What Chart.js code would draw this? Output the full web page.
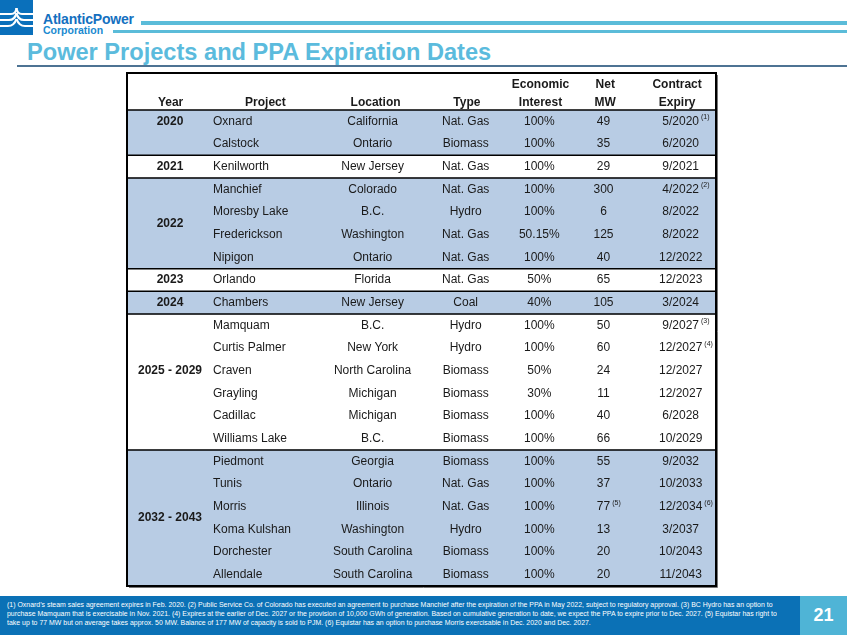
<!DOCTYPE html>
<html>
<head>
<meta charset="utf-8">
<title>Power Projects and PPA Expiration Dates</title>
<script src="https://cdn.jsdelivr.net/npm/chart.js@4.4.1/dist/chart.umd.min.js"></script>
<style>
  body { margin: 0; width: 847px; height: 635px; position: relative; overflow: hidden; background: #fff;
         font-family: "Liberation Sans", Arial, sans-serif; }
  .abs { position: absolute; }
  #brand1 { left: 43px; top: 12px; font-size: 14px; line-height: 14px; font-weight: bold; color: #1470c0; letter-spacing: -0.2px; }
  #brand2 { left: 43px; top: 25px; font-size: 10.5px; line-height: 11px; font-weight: bold; color: #1a8ad0; }
  #bar1 { left: 141px; top: 21px; width: 706px; height: 4px; background: #5bbcd9; }
  #bar2 { left: 113px; top: 30px; width: 734px; height: 3px; background: #5bbcd9; }
  #title { left: 27px; top: 40px; font-size: 23.6px; line-height: 24px; font-weight: bold; color: #5bbbdd; white-space: nowrap; }
  #rule { left: 17px; top: 65px; width: 830px; height: 2px; background: #4d7393; }
  #wrap { left: 126px; top: 72px; }
  #footer { left: 0; top: 596px; width: 800px; height: 39px; background: #0b71b6; }
  #notes { left: 7px; top: 4px; color: #fff; font-size: 7px; line-height: 9px; white-space: nowrap; transform-origin: 0 0; }
  #page { left: 800px; top: 596px; width: 47px; height: 39px; background: #4fb4d6; color: #fff;
          font-weight: bold; font-size: 18px; line-height: 39px; text-align: center; }
</style>
</head>
<body>
<svg class="abs" style="left:0;top:0" width="34" height="36" viewBox="0 0 34 36">
  <rect x="0" y="0" width="33" height="35" fill="#0a70bb"/>
  <g fill="none" stroke="#fff" stroke-width="2.2">
    <path d="M0 14 H11 Q16 14 16.5 8"/>
    <path d="M33 14 H22 Q17 14 16.5 8"/>
    <path d="M0 20 H9 Q15 20 16.5 13"/>
    <path d="M33 20 H24 Q18 20 16.5 13"/>
    <path d="M0 26 H8 Q14 26 16.5 19"/>
    <path d="M33 26 H25 Q19 26 16.5 19"/>
  </g>
</svg>
<div id="brand1" class="abs">AtlanticPower</div>
<div id="brand2" class="abs">Corporation</div>
<div id="bar1" class="abs"></div>
<div id="bar2" class="abs"></div>
<div id="title" class="abs">Power Projects and PPA Expiration Dates</div>
<div id="rule" class="abs"></div>

<div id="wrap" class="abs"><canvas id="ppaTable" width="592" height="516"></canvas></div>

<div id="footer" class="abs">
  <div id="notes" class="abs">
    <div class="nl">(1) Oxnard’s steam sales agreement expires in Feb. 2020. (2) Public Service Co. of Colorado has executed an agreement to purchase Manchief after the expiration of the PPA in May 2022, subject to regulatory approval. (3) BC Hydro has an option to</div>
    <div class="nl">purchase Mamquam that is exercisable in Nov. 2021. (4) Expires at the earlier of Dec. 2027 or the provision of 10,000 GWh of generation. Based on cumulative generation to date, we expect the PPA to expire prior to Dec. 2027. (5) Equistar has right to</div>
    <div class="nl">take up to 77 MW but on average takes approx. 50 MW. Balance of 177 MW of capacity is sold to PJM. (6) Equistar has an option to purchase Morris exercisable in Dec. 2020 and Dec. 2027.</div>
  </div>
</div>
<div id="page" class="abs">21</div>

<script>
// table data, one entry per project row
const yearGroups = ['2020', '2021', '2022', '2023', '2024', '2025 - 2029', '2032 - 2043'];
const groupSizes = [2, 1, 4, 1, 1, 6, 6];

const projects = ['Oxnard', 'Calstock', 'Kenilworth', 'Manchief', 'Moresby Lake', 'Frederickson', 'Nipigon',
    'Orlando', 'Chambers', 'Mamquam', 'Curtis Palmer', 'Craven', 'Grayling', 'Cadillac', 'Williams Lake',
    'Piedmont', 'Tunis', 'Morris', 'Koma Kulshan', 'Dorchester', 'Allendale'];
const locations = ['California', 'Ontario', 'New Jersey', 'Colorado', 'B.C.', 'Washington', 'Ontario',
    'Florida', 'New Jersey', 'B.C.', 'New York', 'North Carolina', 'Michigan', 'Michigan', 'B.C.',
    'Georgia', 'Ontario', 'Illinois', 'Washington', 'South Carolina', 'South Carolina'];
const types = ['Nat. Gas', 'Biomass', 'Nat. Gas', 'Nat. Gas', 'Hydro', 'Nat. Gas', 'Nat. Gas',
    'Nat. Gas', 'Coal', 'Hydro', 'Hydro', 'Biomass', 'Biomass', 'Biomass', 'Biomass',
    'Biomass', 'Nat. Gas', 'Nat. Gas', 'Hydro', 'Biomass', 'Biomass'];
const interests = [100, 100, 100, 100, 100, 50.15, 100, 50, 40, 100, 100, 50, 30, 100, 100,
    100, 100, 100, 100, 100, 100];
const netMW = [49, 35, 29, 300, 6, 125, 40, 65, 105, 50, 60, 24, 11, 40, 66, 55, 37, 77, 13, 20, 20];
const mwNotes = ['', '', '', '', '', '', '', '', '', '', '', '', '', '', '', '', '', '(5)', '', '', ''];
const expiry = ['5/2020', '6/2020', '9/2021', '4/2022', '8/2022', '8/2022', '12/2022', '12/2023', '3/2024',
    '9/2027', '12/2027', '12/2027', '12/2027', '6/2028', '10/2029',
    '9/2032', '10/2033', '12/2034', '3/2037', '10/2043', '11/2043'];
const expiryNotes = ['(1)', '', '', '(2)', '', '', '', '', '', '(3)', '(4)', '', '', '', '',
    '', '', '(6)', '', '', ''];
const headers = [['Year'], ['Project'], ['Location'], ['Type'], ['Economic', 'Interest'], ['Net', 'MW'], ['Contract', 'Expiry']];

document.addEventListener('DOMContentLoaded', function() {

    // fit the footnote lines to the footer width
    const notes = document.getElementById('notes');
    const widest = Math.max(...Array.from(notes.querySelectorAll('.nl')).map(el => el.scrollWidth));
    notes.style.transform = 'scaleX(' + (770 / widest) + ')';

    // which group each row belongs to
    const rowGroup = [];
    groupSizes.forEach((n, g) => { for (let i = 0; i < n; i++) rowGroup.push(g); });

    // shaded bands on every other group
    const bands = rowGroup.map(g => g % 2 === 0 ? [0, 100] : null);

    // column layout in percent of table width
    const colCenter = { year: 7.3, location: 41.7, type: 57.5, interest: 70.0, mw: 80.9, expiry: 94.0 };
    const projectLeft = 14.6;
    const headerCenter = [7.4, 23.5, 42.2, 57.7, 70.2, 81.2, 93.4];
    // row (inside group) where the year label sits
    const yearRow = [0, 0, 1.5, 0, 0, 2, 2.5];

    const font = '"Liberation Sans", Arial, sans-serif';
    const textColor = '#1a1a1a';

    const tablePlugin = {
        id: 'tableText',
        afterDatasetsDraw(chart) {
            const { ctx, chartArea } = chart;
            const x = chart.scales.x, y = chart.scales.y;
            const rowH = Math.abs(y.getPixelForValue(1) - y.getPixelForValue(0));
            ctx.save();
            ctx.fillStyle = textColor;
            ctx.textBaseline = 'middle';

            // headers, bottom aligned in two lines
            ctx.font = 'bold 12px ' + font;
            ctx.textAlign = 'center';
            headers.forEach((lines, c) => {
                lines.forEach((t, k) => {
                    const line = lines.length - 1 - k;
                    ctx.fillText(t, x.getPixelForValue(headerCenter[c]), chartArea.top - 7 - 18 * line);
                });
            });

            // group year labels
            let start = 0;
            groupSizes.forEach((n, g) => {
                const py = y.getPixelForValue(start) + yearRow[g] * rowH;
                ctx.fillText(yearGroups[g], x.getPixelForValue(colCenter.year), py);
                start += n;
            });

            // cell text, with superscript footnote marks
            function withNote(text, note, cx, py) {
                ctx.font = '12px ' + font;
                ctx.textAlign = 'center';
                ctx.fillText(text, cx, py);
                if (note) {
                    const w = ctx.measureText(text).width;
                    ctx.font = '7px ' + font;
                    ctx.textAlign = 'left';
                    ctx.fillText(note, cx + w / 2 + 2, py - 4);
                }
            }
            projects.forEach((p, i) => {
                const py = y.getPixelForValue(i);
                ctx.font = '12px ' + font;
                ctx.textAlign = 'left';
                ctx.fillText(p, x.getPixelForValue(projectLeft), py);
                ctx.textAlign = 'center';
                ctx.fillText(locations[i], x.getPixelForValue(colCenter.location), py);
                ctx.fillText(types[i], x.getPixelForValue(colCenter.type), py);
                ctx.fillText(interests[i] + '%', x.getPixelForValue(colCenter.interest), py);
                withNote(String(netMW[i]), mwNotes[i], x.getPixelForValue(colCenter.mw), py);
                withNote(expiry[i], expiryNotes[i], x.getPixelForValue(colCenter.expiry), py);
            });

            // group separators
            ctx.strokeStyle = '#000';
            ctx.lineWidth = 1.5;
            ctx.beginPath();
            ctx.moveTo(chartArea.left, chartArea.top);
            ctx.lineTo(chartArea.right, chartArea.top);
            for (let i = 1; i < rowGroup.length; i++) {
                if (rowGroup[i] !== rowGroup[i - 1]) {
                    const py = (y.getPixelForValue(i) + y.getPixelForValue(i - 1)) / 2;
                    ctx.moveTo(chartArea.left, py);
                    ctx.lineTo(chartArea.right, py);
                }
            }
            ctx.stroke();

            // outer border with a small shadow
            ctx.lineWidth = 2;
            ctx.strokeRect(1, 1, chart.width - 3, chart.height - 3);
            ctx.strokeStyle = '#777';
            ctx.lineWidth = 1;
            ctx.beginPath();
            ctx.moveTo(chart.width - 0.5, 3);
            ctx.lineTo(chart.width - 0.5, chart.height - 0.5);
            ctx.lineTo(3, chart.height - 0.5);
            ctx.stroke();
            ctx.restore();
        }
    };

    const ctx = document.getElementById('ppaTable').getContext('2d');
    new Chart(ctx, {
        type: 'bar',
        data: {
            labels: projects,
            datasets: [{
                data: bands,
                backgroundColor: '#b8cce4',
                borderWidth: 0,
                barPercentage: 1,
                categoryPercentage: 1
            }]
        },
        options: {
            indexAxis: 'y',
            responsive: false,
            animation: false,
            layout: { padding: { top: 38, bottom: 2, left: 1, right: 2 } },
            plugins: {
                legend: { display: false },
                tooltip: { enabled: false }
            },
            scales: {
                x: { type: 'linear', min: 0, max: 100, display: false },
                y: { display: false }
            }
        },
        plugins: [tablePlugin]
    });
});
</script>
</body>
</html>
